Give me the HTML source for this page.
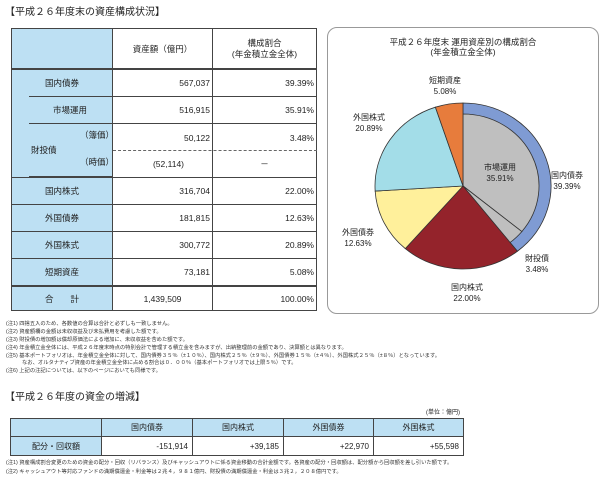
<!DOCTYPE html>
<html><head><meta charset="utf-8"><style>
body{margin:0;width:600px;height:478px;background:#fff;position:relative;overflow:hidden;font-family:"Liberation Sans","Noto Sans CJK JP",sans-serif;color:#222}
.a{position:absolute;white-space:nowrap}
.c{position:absolute;box-sizing:border-box;display:flex;align-items:center;font-size:8.5px}
.h{background:#bde0f3}
.n{position:absolute;left:6px;font-size:5.3px;white-space:nowrap;color:#333}
</style></head><body>
<div class="a" style="left:5px;top:3px;font-size:10px">【平成２６年度末の資産構成状況】</div>

<div id="tbl" style="position:absolute;left:0;top:0">
<div class="c h" style="left:11px;top:28px;width:102px;height:41px;border:1px solid #444"></div>
<div class="c" style="left:112px;top:28px;width:101px;height:41px;border:1px solid #444;justify-content:center">資産額（億円）</div>
<div class="c" style="left:212px;top:28px;width:105px;height:41px;border:1px solid #444;justify-content:center;text-align:center;line-height:11px">構成割合<br>(年金積立金全体)</div>
</div>
<div class="c h" style="left:27px;top:123px;width:86px;height:54px;padding-left:3px;border:1px solid #444">財投債</div>
<div class="a" style="left:80px;top:129px;font-size:8.5px">（簿価）</div>
<div class="a" style="left:80px;top:156px;font-size:8.5px">（時価）</div>
<div style="position:absolute;left:11px;top:96px;width:17px;height:81px;background:#bde0f3;border-left:1px solid #444"></div>
<div style="position:absolute;left:113px;top:150px;width:204px;border-top:1px dashed #666"></div>

<div class="a" style="left:327px;top:27px;width:272px;height:287px;border:1px solid #999;border-radius:10px;box-sizing:border-box"></div>
<div class="a" style="left:327px;top:37px;width:272px;text-align:center;font-size:8.5px;line-height:10px">平成２６年度末 運用資産別の構成割合<br>(年金積立金全体)</div>
<svg id="pie" width="600" height="478" style="position:absolute;left:0;top:0" font-family="Liberation Sans, Noto Sans CJK JP, sans-serif" font-size="8"></svg>

<div class="n" style="top:319px">(注1) 四捨五入のため、各数値の合算は合計と必ずしも一致しません。</div>
<div class="n" style="top:327px">(注2) 資産額欄の金額は未収収益及び未払費用を考慮した額です。</div>
<div class="n" style="top:335px">(注3) 財投債の増加額は償却原価法による増加に、未収収益を含めた額です。</div>
<div class="n" style="top:343px">(注4) 年金積立金全体には、平成２６年度末時点の特別会計で管理する積立金を含みますが、出納整理前の金額であり、決算額とは異なります。</div>
<div class="n" style="top:351px">(注5) 基本ポートフォリオは、年金積立金全体に対して、国内債券３５％（±１０％）、国内株式２５％（±９％）、外国債券１５％（±４％）、外国株式２５％（±８％）となっています。</div>
<div class="n" style="top:358px;left:22px">なお、オルタナティブ資産の年金積立金全体に占める割合は０．００％（基本ポートフォリオでは上限５％）です。</div>
<div class="n" style="top:366px">(注6) 上記の注記については、以下のページにおいても同様です。</div>

<div class="a" style="left:5px;top:388px;font-size:10px">【平成２６年度の資金の増減】</div>
<div class="a" style="left:410px;top:407px;width:50px;text-align:right;font-size:6px">(単位：億円)</div>
<div id="t2"></div>
<div class="n" style="top:458px">(注1) 資産構成割合変更のための資金の配分・回収（リバランス）及びキャッシュアウトに係る資金移動の合計金額です。各資産の配分・回収額は、配分額から回収額を差し引いた額です。</div>
<div class="n" style="top:467px">(注2) キャッシュアウト等対応ファンドの満期償還金・利金等は２兆４，９８１億円、財投債の満期償還金・利金は３兆２，２０８億円です。</div>

<script>
const rowLabels=["国内債券","市場運用","","国内株式","外国債券","外国株式","短期資産","合　　計"];
const amounts=["567,037","516,915","50,122","316,704","181,815","300,772","73,181","1,439,509"];
const ratios=["39.39%","35.91%","3.48%","22.00%","12.63%","20.89%","5.08%","100.00%"];
const sub=["(52,114)","－"];
const rowTops=[69,96,123,177,204,231,258,285,310];
const tbl=document.getElementById('tbl');
function cell(name,x,y,w,h,txt,cls,just){const d=document.createElement('div');d.className='c'+(cls?' '+cls:'');


d.style.cssText=`left:${x}px;top:${y}px;width:${w}px;height:${h}px;border:1px solid #444;justify-content:${just};padding:0 2px`;d.textContent=txt;tbl.appendChild(d);return d;}
for(let i=0;i<8;i++){const y=rowTops[i],h=rowTops[i+1]-y+1;
 if(i===2){cell('zaito-amount',112,y,101,28,amounts[i],'','flex-end').style.borderBottom='none';cell('zaito-ratio',212,y,105,28,ratios[i],'','flex-end').style.borderBottom='none';
  const a=cell('zaito-market-amount',112,150,101,28,sub[0],'','flex-end');a.style.borderTop='none';a.style.paddingRight='28px';
  const b=cell('zaito-market-ratio',212,150,105,28,sub[1],'','center');b.style.borderTop='none';continue;}
 if(i===1)cell('row-label-'+i,27,y,86,h,rowLabels[i],'h','center');
 else cell('row-label-'+i,11,y,102,h,rowLabels[i],'h','center');
 const a=cell('amount-'+i,112,y,101,h,amounts[i],'','flex-end');
 const r=cell('ratio-'+i,212,y,105,h,ratios[i],'','flex-end');
 if(i===7){[a,r].forEach(e=>e.style.borderTop='2px solid #444');a.style.justifyContent='center';}
}
tbl.lastChild.previousSibling.previousSibling.style.borderTop='2px solid #444';

// pie
const sliceNames=["市場運用","財投債","国内株式","外国債券","外国株式","短期資産"];
const sliceValues=[35.91,3.48,22.00,12.63,20.89,5.08];
const sliceColors=["#bfbfbf","#bfbfbf","#94232b","#fff09b","#a3dde8","#e77c3c"];
const ringName="国内債券";const ringValue=39.39;
const svg=document.getElementById('pie');const NS='http://www.w3.org/2000/svg';
const cx=463,cy=186,rx=88,ry=83,irx=76,iry=72;
const total=sliceValues.reduce((a,b)=>a+b,0);
function pt(f,a,b){const t=f*2*Math.PI-Math.PI/2;return [cx+a*Math.cos(t),cy+b*Math.sin(t)];}
function wedge(f0,f1,a,b,fill,name){const p0=pt(f0,a,b),p1=pt(f1,a,b);const lg=(f1-f0)>0.5?1:0;
 const p=document.createElementNS(NS,'path');p.setAttribute('d',`M${cx},${cy}L${p0[0]},${p0[1]}A${a},${b} 0 ${lg} 1 ${p1[0]},${p1[1]}Z`);
 p.setAttribute('fill',fill);p.setAttribute('stroke','#333');p.setAttribute('stroke-width','0.8');
 
 
 svg.appendChild(p);}
wedge(0,ringValue/total,rx,ry,'#7f9bd3','slice-ring-domestic-bonds');
let acc=0;
sliceValues.forEach((v,i)=>{const f0=acc/total,f1=(acc+v)/total;acc+=v;
 if(i<2)wedge(f0,f1,irx,iry,sliceColors[i],'slice-'+i);else wedge(f0,f1,rx,ry,sliceColors[i],'slice-'+i);});
const labels=[["短期資産","5.08%",445,80],["外国株式","20.89%",369,117],["市場運用","35.91%",500,167],[ringName,"39.39%",567,175],["外国債券","12.63%",358,232],["財投債","3.48%",537,258],["国内株式","22.00%",467,287]];
labels.forEach((l,i)=>{[l[0],l[1]].forEach((s,j)=>{const t=document.createElementNS(NS,'text');t.setAttribute('x',l[2]);t.setAttribute('y',l[3]+3+j*11);t.setAttribute('text-anchor','middle');t.setAttribute('fill','#222');t.textContent=s;
 
 
 svg.appendChild(t);});});

// flow table
const flowCats=["国内債券","国内株式","外国債券","外国株式"];
const flowVals=["-151,914","+39,185","+22,970","+55,598"];
const cols=[10,101,192,283,373,463];
const t2=document.getElementById('t2');
function c2(name,x,y,w,h,txt,cls,just){const d=document.createElement('div');d.className='c'+(cls?' '+cls:'');


d.style.cssText=`left:${x}px;top:${y}px;width:${w}px;height:${h}px;border:1px solid #444;justify-content:${just};padding:0 4px;font-size:8px`;d.textContent=txt;t2.appendChild(d);}
c2('flow-header-blank',cols[0],418,cols[1]-cols[0]+1,19,'','h','center');
c2('flow-row-label',cols[0],436,cols[1]-cols[0]+1,20,'配分・回収額','h','center');
flowCats.forEach((k,i)=>{const w=cols[i+2]-cols[i+1]+1;
 c2('flow-header-'+i,cols[i+1],418,w,19,k,'h','center');
 c2('flow-value-'+i,cols[i+1],436,w,20,flowVals[i],'','flex-end');});
</script>
</body></html>
